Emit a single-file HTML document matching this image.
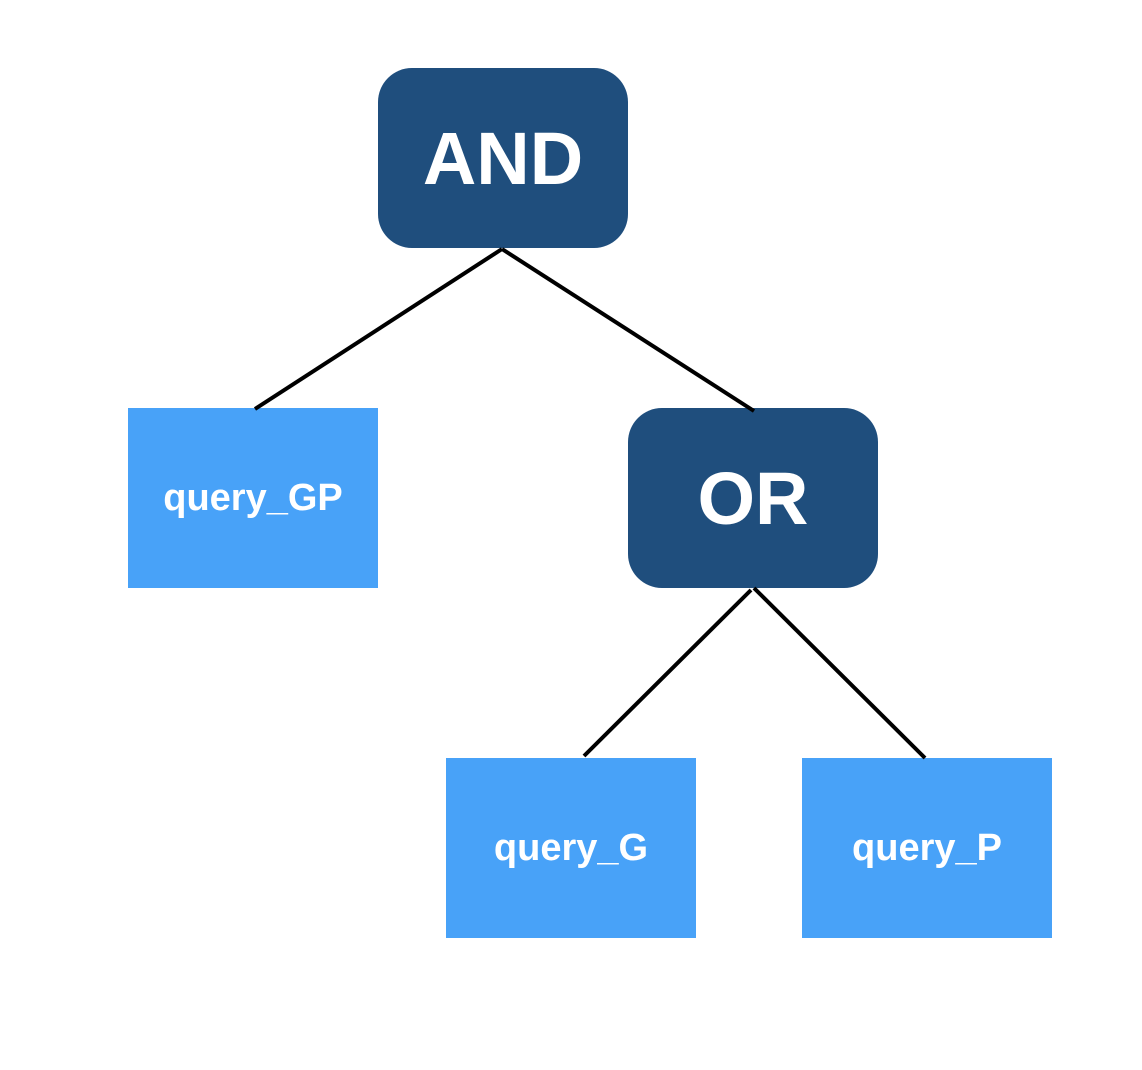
<!DOCTYPE html>
<html><head><meta charset="utf-8"><style>
body{margin:0;width:1142px;height:1070px;background:#fff;position:relative;font-family:"Liberation Sans",sans-serif;overflow:hidden}
.b{position:absolute;display:flex;align-items:center;justify-content:center;color:#fff;font-weight:bold}
.d{background:#1f4e7d;border-radius:34px;font-size:74px;width:250px;height:180px}
.l{background:#48a2f8;font-size:38px;width:250px;height:180px}
svg{position:absolute;left:0;top:0}
</style></head><body>
<div class="b d" style="left:378px;top:68px">AND</div>
<div class="b d" style="left:628px;top:408px">OR</div>
<div class="b l" style="left:128px;top:408px">query_GP</div>
<div class="b l" style="left:446px;top:758px">query_G</div>
<div class="b l" style="left:802px;top:758px">query_P</div>
<svg width="1142" height="1070"><g stroke="#000" stroke-width="4" fill="none">
<line x1="502" y1="249" x2="255" y2="409"/>
<line x1="502" y1="249" x2="754" y2="411"/>
<line x1="751" y1="590" x2="584" y2="756"/>
<line x1="754" y1="588" x2="925" y2="758"/>
</g></svg>
</body></html>
